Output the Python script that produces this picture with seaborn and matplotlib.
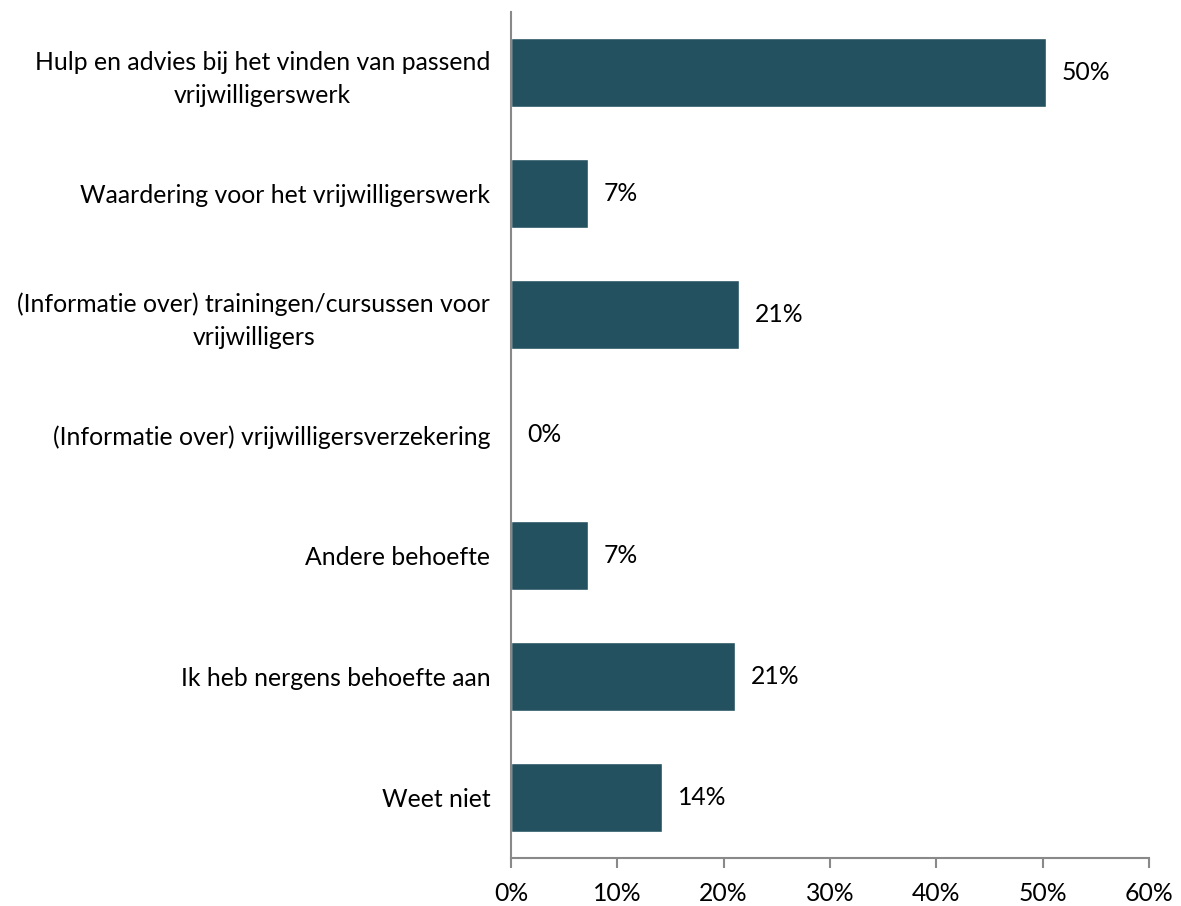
import matplotlib.pyplot as plt
import seaborn as sns
import pandas as pd

categories = [
    'Hulp en advies bij het vinden van passend\nvrijwilligerswerk',
    'Waardering voor het vrijwilligerswerk',
    '(Informatie over) trainingen/cursussen voor\nvrijwilligers',
    '(Informatie over) vrijwilligersverzekering',
    'Andere behoefte',
    'Ik heb nergens behoefte aan',
    'Weet niet',
]
values = [50.3, 7.2, 21.4, 0.0, 7.2, 21.1, 14.2]
value_labels = ['50%', '7%', '21%', '0%', '7%', '21%', '14%']
xticks = [0, 10, 20, 30, 40, 50, 60]

data = pd.DataFrame({'categorie': categories, 'pct': values})

sns.set_theme(style='white')
plt.rcParams['font.family'] = ['Lato', 'DejaVu Sans']
plt.rcParams['text.color'] = 'black'
plt.rcParams['xtick.labelcolor'] = 'black'
plt.rcParams['ytick.labelcolor'] = 'black'

fs = 17.8

fig = plt.figure(figsize=(11.81, 9.06), dpi=100)
ax = fig.add_axes([0.4327, 0.053, 0.5402, 0.9338])

sns.barplot(x='pct', y='categorie', data=data, orient='h', color='#23515F',
            width=0.57, saturation=1, ax=ax)

for i, (v, lab) in enumerate(zip(values, value_labels)):
    ax.text(v + 1.5, i, lab, va='center', ha='left', fontsize=fs, color='black')

ax.set_xlim(0, 60)
ax.set_ylim(6.5, -0.5)
ax.set_xticks(xticks)
ax.set_xticklabels([f'{t}%' for t in xticks], fontsize=fs)
ax.set_xlabel('')
ax.set_ylabel('')
for lbl in ax.get_yticklabels():
    lbl.set_fontsize(fs)
    lbl.set_multialignment('center')
    lbl.set_linespacing(1.5)

for s in ['top', 'right']:
    ax.spines[s].set_visible(False)
for s in ['left', 'bottom']:
    ax.spines[s].set_color('#898989')
    ax.spines[s].set_linewidth(1.5)

ax.tick_params(axis='x', direction='out', length=7, width=1.5, color='#898989',
               pad=10, bottom=True)
ax.tick_params(axis='y', length=0, pad=15)

fig.savefig('out.png', dpi=100)
